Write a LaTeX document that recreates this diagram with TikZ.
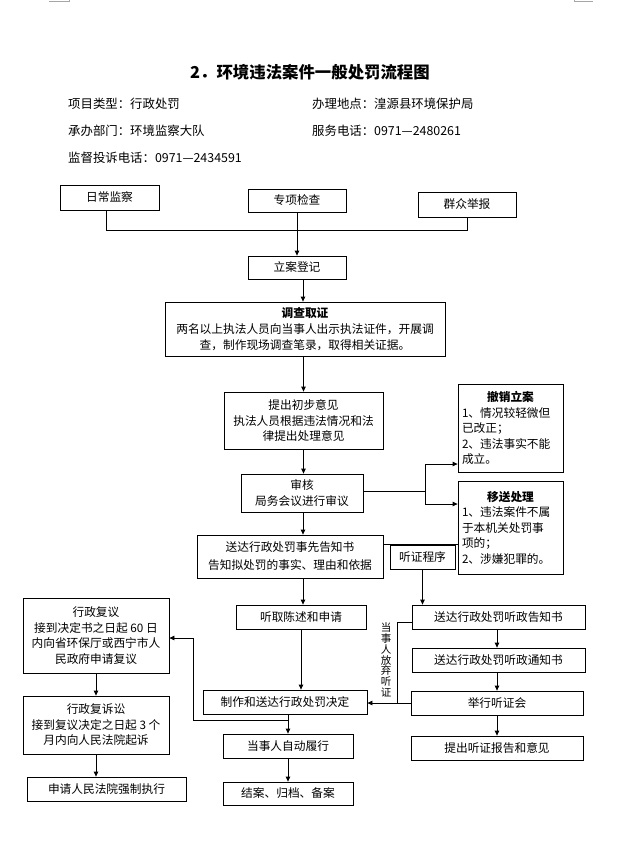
\documentclass[tikz,border=0pt]{standalone}
\usepackage{fontspec}
\setmainfont{Noto Sans CJK SC}
\usetikzlibrary{arrows.meta}
\newcommand\fsz{\fontsize{11.7}{15.5}\selectfont}
\newcommand\fsi{\fontsize{12.4}{14}\selectfont}
\begin{document}
\begin{tikzpicture}[x=1pt,y=-1pt,
  box/.style={draw, line width=0.8pt, inner sep=0pt, align=center, font=\fsz},
  arr/.style={-{Triangle[length=5pt,width=4.5pt]}, line width=0.8pt},
  ln/.style={line width=0.8pt},
  info/.style={anchor=west, inner sep=0pt, font=\fsi},
  crop/.style={draw=gray!70, line width=0.8pt}]
\useasboundingbox (0,0) rectangle (641,863);
% corner marks
\draw[crop] (49,1.5) -- (69,1.5) -- (69,0);
\draw[crop] (593,1.5) -- (574,1.5) -- (574,0);
% title and info
\node[inner sep=0pt, font=\fontsize{16.4}{18}\selectfont\bfseries] (title) at (310,72) {2．环境违法案件一般处罚流程图};
\node[info] (i1) at (68,104) {项目类型：行政处罚};
\node[info] (i2) at (312,104) {办理地点：湟源县环境保护局};
\node[info] (i3) at (68,131) {承办部门：环境监察大队};
\node[info] (i4) at (312,131) {服务电话：0971—2480261};
\node[info] (i5) at (68,158) {监督投诉电话：0971—2434591};
% boxes
\node[box, minimum width=99pt, minimum height=25pt] (rcjc) at (109.5,197.5) {日常监察};
\node[box, minimum width=98pt, minimum height=23pt] (zxjc) at (297,200.5) {专项检查};
\node[box, minimum width=98pt, minimum height=25pt] (qzjb) at (467,204.5) {群众举报};
\node[box, minimum width=98pt, minimum height=23pt] (ladj) at (297,267.5) {立案登记};
\node[box, minimum width=280pt, minimum height=54pt] (dcqz) at (305,329) {\textbf{调查取证}\\[1pt]两名以上执法人员向当事人出示执法证件，开展调\\查，制作现场调查笔录，取得相关证据。};
\node[box, minimum width=159pt, minimum height=57pt] (tccb) at (303.5,420.5) {提出初步意见\\执法人员根据违法情况和法\\律提出处理意见};
\node[box, minimum width=122pt, minimum height=38pt] (sh) at (302,493) {审核\\局务会议进行审议};
\node[box, minimum width=105pt, minimum height=88pt, align=left] (cxla) at (510.5,428) {\makebox[97pt]{\bfseries 撤销立案}\\1、情况较轻微但\\已改正；\\2、违法事实不能\\成立。};
\node[box, minimum width=105pt, minimum height=93pt, align=left] (ysl) at (510.5,527.5) {\makebox[97pt]{\bfseries 移送处理}\\1、违法案件不属\\于本机关处罚事\\项的；\\2、涉嫌犯罪的。};
\node[box, minimum width=186pt, minimum height=43pt, font=\fontsize{11.7}{18}\selectfont] (sdgz) at (290,556.5) {送达行政处罚事先告知书\\告知拟处罚的事实、理由和依据};
\node[box, minimum width=65pt, minimum height=24pt] (tzcx) at (422.5,557) {听证程序};
\node[box, minimum width=130pt, minimum height=24pt] (tqcs) at (301,617) {听取陈述和申请};
\node[box, minimum width=164pt, minimum height=24pt] (zzsd) at (285,702) {制作和送达行政处罚决定};
\node[box, minimum width=130pt, minimum height=24pt] (dsr) at (288,746) {当事人自动履行};
\node[box, minimum width=130pt, minimum height=23pt] (ja) at (288,793.5) {结案、归档、备案};
\node[box, minimum width=173pt, minimum height=24pt] (tzgz) at (498.5,617) {送达行政处罚听政告知书};
\node[box, minimum width=173pt, minimum height=24pt] (tztz) at (498.5,660) {送达行政处罚听政通知书};
\node[box, minimum width=172pt, minimum height=24pt] (jxtz) at (497,703) {举行听证会};
\node[box, minimum width=172pt, minimum height=24pt] (tcbg) at (497,748) {提出听证报告和意见};
\node[box, minimum width=146pt, minimum height=75pt] (xzfy) at (96,635.5) {行政复议\\接到决定书之日起 60 日\\内向省环保厅或西宁市人\\民政府申请复议};
\node[box, minimum width=146pt, minimum height=58pt] (xzss) at (96,725) {行政复诉讼\\接到复议决定之日起 3 个\\月内向人民法院起诉};
\node[box, minimum width=159pt, minimum height=24pt] (sqqz) at (106.5,789) {申请人民法院强制执行};
\node[inner sep=0pt, align=center, font=\fontsize{10.5}{10.8}\selectfont] (fq) at (386,660) {当\\事\\人\\放\\弃\\听\\证};
% connectors
\coordinate (hl) at (297,230);
\draw[ln] ([xshift=-3.5pt]rcjc.south) coordinate (a1) -- (a1 |- hl) -- (qzjb.south |- hl) -- (qzjb.south);
\draw[arr] (zxjc) -- (ladj);
\draw[arr] ([xshift=6pt]ladj.south) coordinate (a2) -- (a2 |- dcqz.north);
\draw[arr] (tccb.north |- dcqz.south) -- (tccb.north);
\draw[arr] (tccb.south) -- (tccb.south |- sh.north);
\draw[arr] ([xshift=1pt]sh.south) coordinate (a3) -- (a3 |- sdgz.north);
\coordinate (br) at (425,491);
\coordinate (b1) at (425,464);
\coordinate (b2) at (425,504);
\draw[ln] (sh.east |- br) -- (br);
\draw[ln] (b1) -- (b2);
\draw[arr] (b1) -- (b1 -| cxla.west);
\draw[arr] (b2) -- (b2 -| ysl.west);
\draw[ln] (sdgz.east |- tzcx.north) -- (ysl.west |- tzcx.north);
\draw[arr] (tzcx.south) -- (tzcx.south |- tzgz.north);
\draw[arr] (tzgz.south -| jxtz.south) -- (jxtz.south |- tztz.north);
\draw[arr] (tztz.south -| jxtz.south) -- (jxtz.south |- jxtz.north);
\draw[arr] (jxtz.south) -- (tcbg.north);
\draw[arr] (a3 |- sdgz.south) -- (a3 |- tqcs.north);
\draw[arr] (tqcs.south) -- (tqcs.south |- zzsd.north);
\coordinate (v1) at (397,622);
\draw[ln] (tzgz.west |- v1) -- (v1) -- (v1 |- jxtz.west);
\draw[arr] (jxtz.west) -- (zzsd.east |- jxtz.west);
\draw[arr] (zzsd.south -| dsr.north) -- (dsr.north);
\coordinate (r1) at (193,720);
\coordinate (r2) at (193,638);
\draw[arr] (r1 -| dsr.north) -- (r1) -- (r2) -- (r2 -| xzfy.east);
\draw[arr] (dsr) -- (ja);
\draw[arr] (xzfy) -- (xzss);
\draw[arr] (xzss.south) -- (xzss.south |- sqqz.north);
\end{tikzpicture}
\end{document}
